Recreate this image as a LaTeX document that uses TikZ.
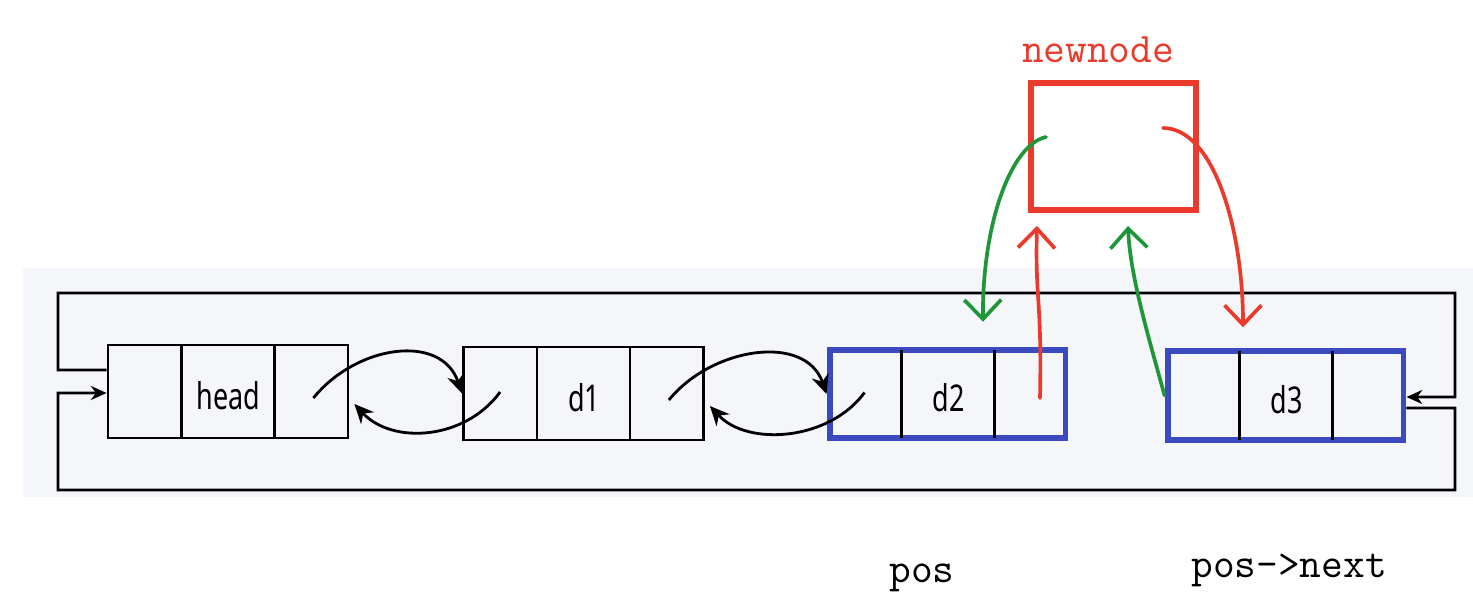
\documentclass[tikz,border=0pt]{standalone}
\usepackage{fontspec}
\usetikzlibrary{arrows.meta}
\newfontfamily\boxfont[FakeStretch=0.73]{Noto Sans}
\definecolor{panelgray}{RGB}{245,246,249}
\definecolor{markred}{RGB}{233,58,44}
\definecolor{markgreen}{RGB}{32,150,58}
\definecolor{posblue}{RGB}{60,74,192}
\tikzset{
  listbox/.style={draw=black,line width=1.6pt,inner sep=0pt,minimum width=4.8cm,minimum height=1.86cm},
  posbox/.style={listbox,draw=posblue,line width=3.4pt,minimum width=4.72cm,minimum height=1.77cm},
  wire/.style={line width=1.6pt,-{Stealth[length=9pt,width=8pt]}},
  ptr/.style={line width=1.6pt,-{Stealth[length=11pt,width=10pt]}},
  hand/.style={line width=2.1pt,line cap=round,line join=round,-{Straight Barb[length=11pt,width=21pt]}},
  boxlabel/.style={font=\boxfont\fontsize{21}{24}\selectfont,inner sep=0pt},
  codelabel/.style={font=\ttfamily\fontsize{24}{28}\selectfont,anchor=base,inner sep=0pt}
}
\begin{document}
\begin{tikzpicture}[x=0.02cm,y=-0.02cm]
                  \fill[white] (0,0) rectangle (1473,598);
                  \fill[panelgray] (23,268) rectangle (1473,497);
                  \foreach \n/\s/\x/\y/\c in {head/listbox/228/391.5/0.8pt, d1/listbox/583.5/393.5/0.8pt, d2/posbox/947.5/394/1.7pt, d3/posbox/1285.5/395.5/1.7pt} {
                      \node[\s] (\n) at (\x,\y) {};
                      \draw[line width=1.3pt,shorten <=\c,shorten >=\c] ([xshift=1.5cm]\n.north west) -- ([xshift=1.5cm]\n.south west);
                      \draw[line width=1.3pt,shorten <=\c,shorten >=\c] ([xshift=3.36cm]\n.north west) -- ([xshift=3.36cm]\n.south west);
                      \node[boxlabel] (\n-text) at ([shift={(122,4)}]\n.west) {\n};
                  }
                  \foreach \a/\b in {head/d1, d1/d2} {
                      \draw[ptr] ([shift={(-36,6.5)}]\a.east) .. controls +(43,-53) and +(-21,-61) .. (\b.west);
                      \draw[ptr] ([shift={(38,-1.5)}]\b.west) .. controls +(-35,48) and +(38,41) .. ([shift={(5,12.5)}]\a.east);
                  }
                  \draw[wire] ([shift={(0,-21.5)}]head.west) -- (58,370) -- (58,293) -- (1455,293) -- (1455,397) -- ([shift={(0,1.5)}]d3.east);
                  \draw[wire] ([shift={(0,12.5)}]d3.east) -- (1455,408) -- (1455,490) -- (58,490) -- (58,393) -- ([shift={(0,1.5)}]head.west);
                  \node[draw=markred,line width=3.4pt,inner sep=0pt,minimum width=3.3cm,minimum height=2.54cm] (newnode) at (1113.5,146.5) {};
                  \node[codelabel,text=markred] (newnode-text) at (1098,63) {newnode};
                  \node[codelabel] (pos-text) at (922,582) {pos};
                  \node[codelabel] (next-text) at (1289,577) {pos->next};
                  \draw[hand,markgreen] ([shift={(-67.5,-9.5)}]newnode.center) .. controls +(-36,8) and +(-1,-95) .. ([shift={(35.5,-25)}]d2.north);
                  \draw[hand,markred] ([shift={(92.5,4)}]d2.center) .. controls +(2,-100) and +(-2,75) .. ([shift={(-76.5,13)}]newnode.south);
                  \draw[hand,markgreen] (d3.west) .. controls +(-15,-55) and +(2,50) .. ([shift={(14.5,13)}]newnode.south);
                  \draw[hand,markred] ([shift={(49.5,-18.5)}]newnode.center) .. controls +(50,0) and +(0,-100) .. ([shift={(-42.5,-21)}]d3.north);
\end{tikzpicture}
\end{document}
